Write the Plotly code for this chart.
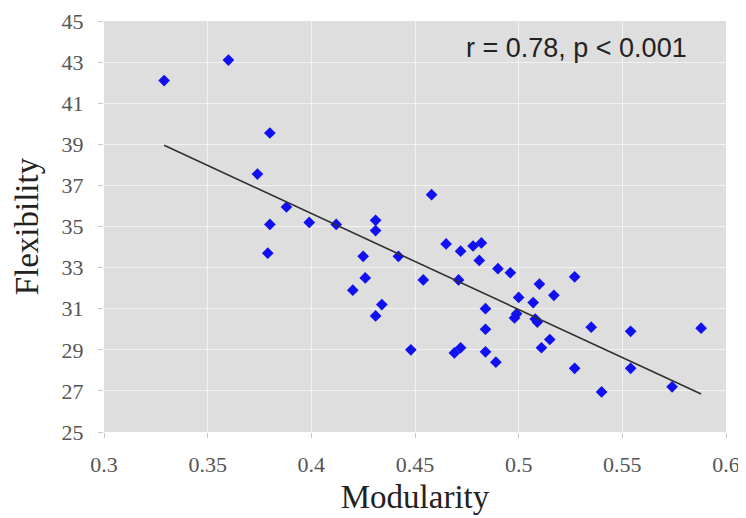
import plotly.graph_objects as go

# modularity vs flexibility
modularity = [
    0.329, 0.360, 0.380, 0.374, 0.388, 0.380, 0.399, 0.412, 0.379, 0.431,
    0.431, 0.458, 0.425, 0.442, 0.426, 0.420, 0.434, 0.431, 0.448, 0.454,
    0.465, 0.472, 0.478, 0.482, 0.481, 0.471, 0.490, 0.496, 0.484, 0.484,
    0.469, 0.472, 0.484, 0.489, 0.500, 0.499, 0.498, 0.507, 0.510, 0.508,
    0.509, 0.517, 0.511, 0.515, 0.527, 0.527, 0.535, 0.540, 0.554, 0.554,
    0.574, 0.588,
]
flexibility = [
    42.1, 43.1, 39.55, 37.55, 35.95, 35.1, 35.2, 35.1, 33.7, 35.3,
    34.8, 36.55, 33.55, 33.55, 32.5, 31.9, 31.2, 30.65, 29.0, 32.4,
    34.15, 33.8, 34.05, 34.2, 33.35, 32.4, 32.95, 32.75, 31.0, 30.0,
    28.85, 29.1, 28.9, 28.4, 31.55, 30.75, 30.55, 31.3, 32.2, 30.5,
    30.35, 31.65, 29.1, 29.5, 32.55, 28.1, 30.1, 26.95, 29.9, 28.1,
    27.2, 30.05,
]

# fitted trend line end points
trend_x = [0.329, 0.588]
trend_y = [38.95, 26.85]

x_ticks = [0.3, 0.35, 0.4, 0.45, 0.5, 0.55, 0.6]
x_tick_labels = ["0.3", "0.35", "0.4", "0.45", "0.5", "0.55", "0.6"]
y_ticks = [25, 27, 29, 31, 33, 35, 37, 39, 41, 43, 45]

fig = go.Figure()

fig.add_trace(go.Scatter(
    x=modularity, y=flexibility, mode="markers",
    marker=dict(symbol="diamond", size=9, color="#1010f0"),
    showlegend=False,
))
fig.add_trace(go.Scatter(
    x=trend_x, y=trend_y, mode="lines",
    line=dict(color="#303030", width=1.6),
    showlegend=False,
))

fig.add_annotation(
    text="r = 0.78, p < 0.001", xref="paper", yref="paper",
    x=0.94, y=0.935, xanchor="right", yanchor="middle", showarrow=False,
    font=dict(family="Liberation Sans, Arial, sans-serif", size=27, color="#222222"),
)

serif = "Liberation Serif, Times New Roman, serif"

# y title as an annotation so it can sit further left
fig.add_annotation(
    text="Flexibility", xref="paper", yref="paper",
    x=-0.124, y=0.5, xanchor="center", yanchor="middle", textangle=-90,
    showarrow=False, font=dict(family=serif, size=33, color="#222222"),
)

# the page adds an 8px body margin, so margins are shifted to compensate
fig.update_layout(
    width=746, height=518,
    margin=dict(l=96, r=28, t=13, b=94),
    paper_bgcolor="white",
    plot_bgcolor="#dedede",
    font=dict(family=serif),
    xaxis=dict(
        range=[0.3, 0.6], tickvals=x_ticks, ticktext=x_tick_labels,
        showgrid=True, gridcolor="#f2f2f2", gridwidth=1,
        ticks="outside", ticklen=5, tickcolor="#c8c8c8",
        ticklabelstandoff=8, ticklabeloverflow="allow",
        tickfont=dict(family=serif, size=22, color="#555555"),
        title=dict(text="Modularity", font=dict(family=serif, size=33, color="#222222"), standoff=8),
        zeroline=False, showline=False, automargin=False,
    ),
    yaxis=dict(
        range=[25, 45], tickvals=y_ticks,
        showgrid=True, gridcolor="#f2f2f2", gridwidth=1,
        ticks="outside", ticklen=5, tickcolor="#c8c8c8",
        ticklabelstandoff=10, ticklabeloverflow="allow",
        tickfont=dict(family=serif, size=22, color="#555555"),
        zeroline=False, showline=False, automargin=False,
    ),
)

fig.write_html("out.html")
